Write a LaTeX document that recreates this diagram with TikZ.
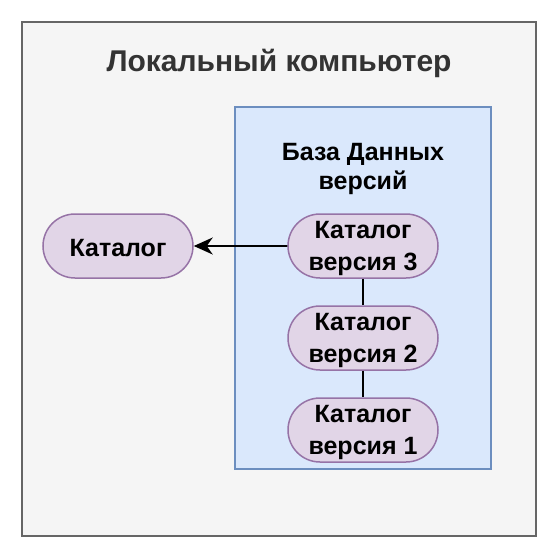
\documentclass[tikz,border=0pt]{standalone}
\usepackage{fontspec}
\setmainfont{Liberation Sans}
\usetikzlibrary{arrows.meta,shapes.misc}
\definecolor{outerfill}{HTML}{F5F5F5}
\definecolor{outerdraw}{HTML}{666666}
\definecolor{titlecol}{HTML}{333333}
\definecolor{dbfill}{HTML}{DAE8FC}
\definecolor{dbdraw}{HTML}{6C8EBF}
\definecolor{pillfill}{HTML}{E1D5E7}
\definecolor{pilldraw}{HTML}{9673A6}
\tikzset{
  pill/.style={rounded rectangle, draw=pilldraw, fill=pillfill, line width=1.5pt,
    minimum width=150pt, minimum height=64pt, inner sep=0pt},
  pilltext/.style={align=center, yshift=-2.5pt, font=\fontsize{25}{32}\selectfont\bfseries},
  link/.style={line width=1.6pt, black},
}
\begin{document}
\begin{tikzpicture}[x=1pt,y=-1pt]
\useasboundingbox (0,0) rectangle (558,558);
\fill[white] (0,0) rectangle (558,558);
\node[draw=outerdraw, fill=outerfill, line width=1.5pt, minimum width=514pt, minimum height=514pt, inner sep=0pt] (outer) at (279,279) {};
\node[font=\fontsize{30}{36}\selectfont\bfseries, text=titlecol] (title) at (279,63) {Локальный компьютер};
\node[draw=dbdraw, fill=dbfill, line width=1.5pt, minimum width=256pt, minimum height=362pt, inner sep=0pt] (db) at (363,288) {};
\node[font=\fontsize{25}{29}\selectfont\bfseries, align=center] (dbtitle) at (363,168.5) {База Данных\\версий};
\node[pill, label={[pilltext]center:Каталог}] (cat) at (118,246) {};
\node[pill, label={[pilltext]center:Каталог\\версия 3}] (v3) at (363,246) {};
\node[pill, label={[pilltext]center:Каталог\\версия 2}] (v2) at (363,338) {};
\node[pill, label={[pilltext]center:Каталог\\версия 1}] (v1) at (363,430) {};
\draw[link, -{Stealth[length=19pt,width=17pt,inset=6pt]}] (v3) -- (cat);
\draw[link] (v3) -- (v2);
\draw[link] (v2) -- (v1);
\end{tikzpicture}
\end{document}
